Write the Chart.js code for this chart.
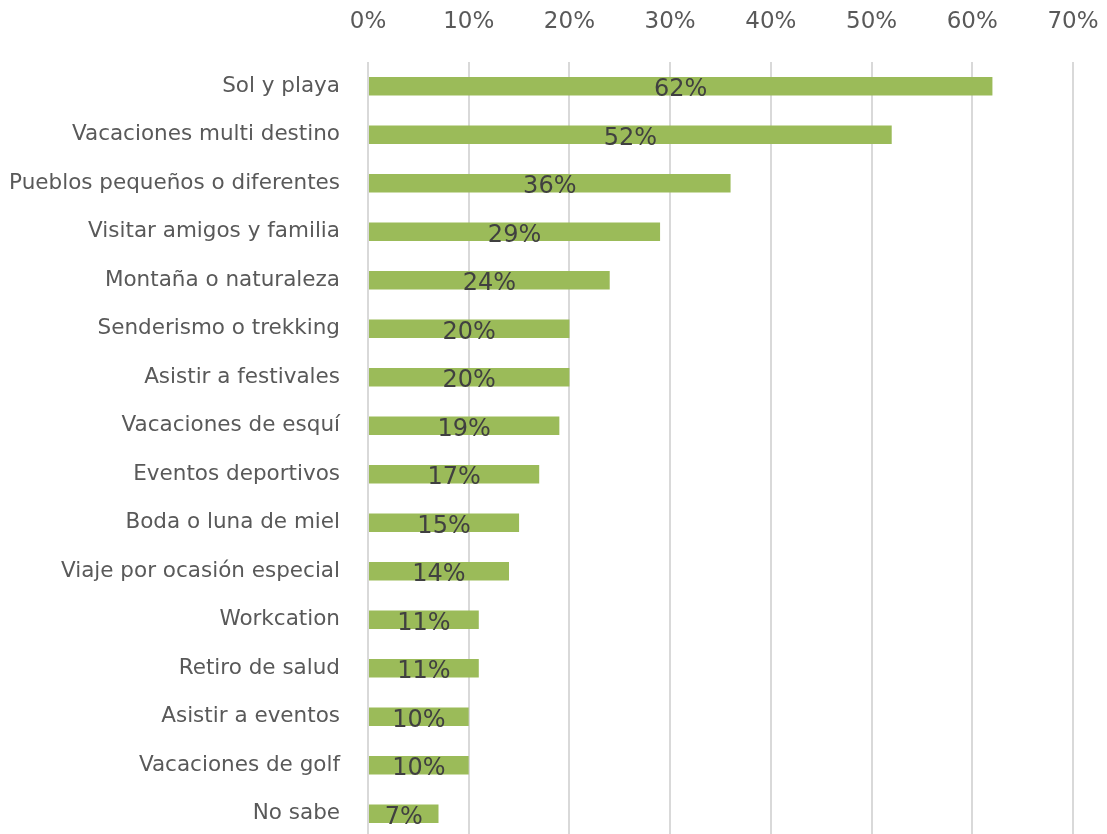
<!DOCTYPE html>
<html>
<head>
<meta charset="utf-8">
<script src="https://cdn.jsdelivr.net/npm/chart.js@4.4.1/dist/chart.umd.min.js"></script>
<style>
  html, body { margin: 0; padding: 0; background: #fff; overflow: hidden; }
  #wrap { width: 1107px; height: 840px; }
</style>
</head>
<body>
<div id="wrap"><canvas id="myChart" width="1107" height="840"></canvas></div>
<script>
const categories = [
  'Sol y playa', 'Vacaciones multi destino', 'Pueblos pequeños o diferentes',
  'Visitar amigos y familia', 'Montaña o naturaleza', 'Senderismo o trekking',
  'Asistir a festivales', 'Vacaciones de esquí', 'Eventos deportivos',
  'Boda o luna de miel', 'Viaje por ocasión especial', 'Workcation',
  'Retiro de salud', 'Asistir a eventos', 'Vacaciones de golf', 'No sabe'
];
const shares = [62, 52, 36, 29, 24, 20, 20, 19, 17, 15, 14, 11, 11, 10, 10, 7];
const xTicks = [0, 10, 20, 30, 40, 50, 60, 70];

const FONT = 'DejaVu Sans';

// percentage text centred inside each bar
const barLabels = {
  id: 'barLabels',
  afterDatasetsDraw(chart) {
    const ctx = chart.ctx;
    const meta = chart.getDatasetMeta(0);
    ctx.save();
    ctx.font = '24px "' + FONT + '"';
    ctx.fillStyle = '#404040';
    ctx.textAlign = 'center';
    ctx.textBaseline = 'alphabetic';
    meta.data.forEach((bar, i) => {
      const x = (bar.x + bar.base) / 2;
      ctx.fillText(shares[i] + '%', x, bar.y + 10);
    });
    ctx.restore();
  }
};

const ctx = document.getElementById('myChart');
new Chart(ctx, {
  type: 'bar',
  data: {
    labels: categories,
    datasets: [{
      data: shares,
      backgroundColor: '#9bbb59',
      categoryPercentage: 1,
      barPercentage: 0.38
    }]
  },
  options: {
    indexAxis: 'y',
    responsive: false,
    animation: false,
    layout: { padding: { left: 0, right: 34, top: 0, bottom: 2 } },
    plugins: { legend: { display: false }, tooltip: { enabled: false } },
    scales: {
      x: {
        position: 'top',
        min: 0,
        max: 70,
        afterBuildTicks(axis) { axis.ticks = xTicks.map(v => ({ value: v })); },
        afterFit(axis) {
          axis.height = 62;
          axis.paddingLeft = 0;
          axis.paddingRight = 0;
        },
        grid: { color: '#d9d9d9', lineWidth: 2, drawTicks: false },
        border: { display: false },
        ticks: {
          color: '#595959',
          font: { family: FONT, size: 23 },
          padding: 26,
          callback: v => v + '%'
        }
      },
      y: {
        afterFit(axis) {
          axis.width = 368;
          axis.paddingTop = 0;
          axis.paddingBottom = 0;
        },
        grid: { display: false },
        border: { display: false },
        ticks: {
          color: '#595959',
          font: { family: FONT, size: 21.5 },
          padding: 20
        }
      }
    }
  },
  plugins: [barLabels]
});
</script>
</body>
</html>
